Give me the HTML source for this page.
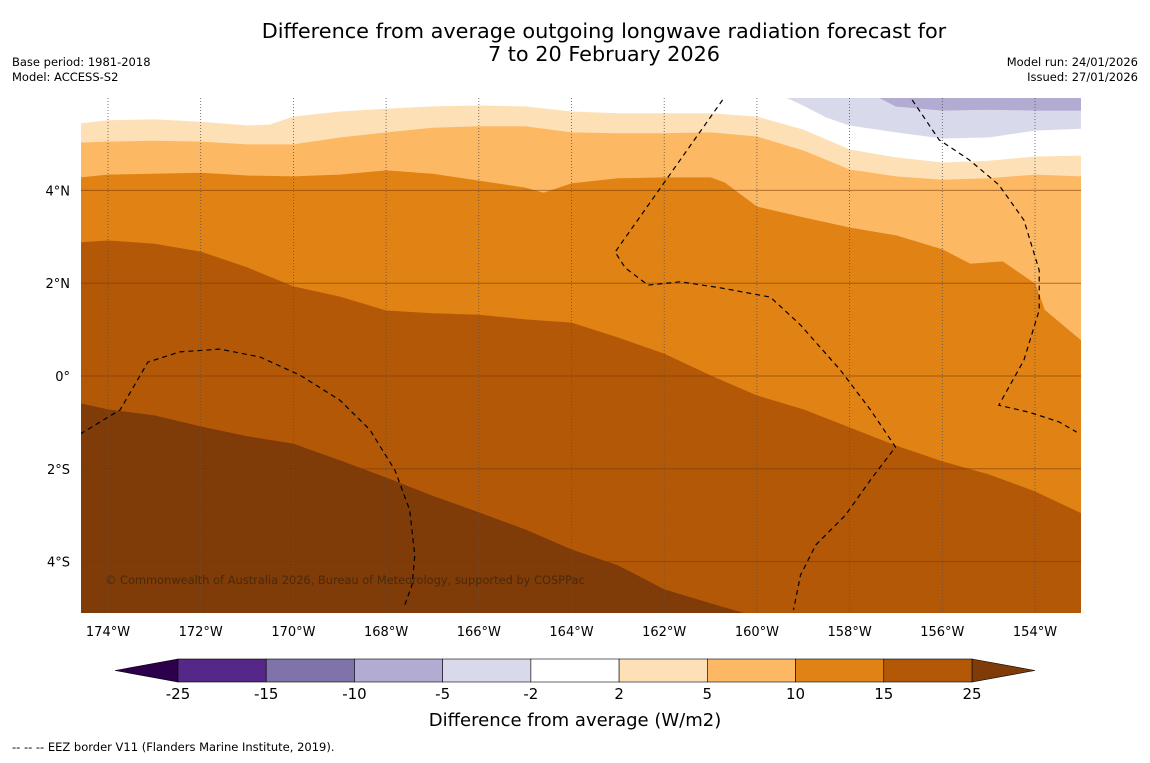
<!DOCTYPE html>
<html><head><meta charset="utf-8"><style>
body{margin:0;background:#fff;font-family:"Liberation Sans","DejaVu Sans",sans-serif;}
svg text{font-family:"DejaVu Sans","Liberation Sans",sans-serif;}
</style></head><body>
<svg id="c" width="1150" height="758" viewBox="0 0 1150 758" xmlns="http://www.w3.org/2000/svg">
<rect width="1150" height="758" fill="#fff"/>
<text x="604" y="38" font-size="20.8" text-anchor="middle">Difference from average outgoing longwave radiation forecast for</text>
<text x="604" y="61" font-size="20.8" text-anchor="middle">7 to 20 February 2026</text>
<text x="12" y="66" font-size="11.5">Base period: 1981-2018</text>
<text x="12" y="81" font-size="11.5">Model: ACCESS-S2</text>
<text x="1138" y="66" font-size="11.5" text-anchor="end">Model run: 24/01/2026</text>
<text x="1138" y="81" font-size="11.5" text-anchor="end">Issued: 27/01/2026</text>
<g id="map"></g>
<g id="cbar"></g>
<text x="575" y="726" font-size="18" text-anchor="middle">Difference from average (W/m2)</text>
<text x="12" y="751" font-size="11.5">--  --  -- EEZ border V11 (Flanders Marine Institute, 2019).</text>
</svg>
<script>
// contour level boundaries [lon, lat]
const lev2=[[-174.6,5.43],[-174,5.5],[-173,5.52],[-172,5.47],[-171,5.39],[-170.5,5.41],[-170,5.58],[-169,5.69],[-168,5.75],[-167,5.8],[-166,5.82],[-165,5.8],[-164,5.69],[-163,5.65],[-162,5.65],[-161,5.65],[-160,5.58],[-159,5.3],[-158,4.87],[-157,4.7],[-156,4.59],[-155,4.63],[-154,4.72],[-153,4.74]];
const lev5=[[-174.6,5.02],[-174,5.04],[-173,5.06],[-172,5.04],[-171,4.98],[-170,4.98],[-169,5.13],[-168,5.24],[-167,5.34],[-166,5.37],[-165,5.37],[-164,5.24],[-163,5.22],[-162,5.22],[-161,5.24],[-160,5.15],[-159,4.85],[-158,4.44],[-157,4.29],[-156,4.22],[-155,4.25],[-154,4.33],[-153,4.29]];
const lev10=[[-174.6,4.27],[-174,4.33],[-173,4.35],[-172,4.37],[-171,4.31],[-170,4.29],[-169,4.33],[-168,4.42],[-167,4.35],[-166,4.2],[-165,4.05],[-164.6,3.94],[-164,4.14],[-163,4.25],[-162,4.27],[-161,4.27],[-160.7,4.16],[-160,3.64],[-159,3.41],[-158,3.19],[-157,3.02],[-156,2.72],[-155.4,2.41],[-154.7,2.46],[-154,1.98],[-153.8,1.42],[-153,0.75]];
const lev15=[[-174.6,2.87],[-174,2.91],[-173,2.84],[-172,2.67],[-171,2.33],[-170,1.92],[-169,1.7],[-168,1.4],[-167,1.34],[-166,1.31],[-165,1.21],[-164,1.14],[-163,0.82],[-162,0.47],[-161,0],[-160,-0.43],[-159,-0.73],[-158,-1.12],[-157,-1.51],[-156,-1.85],[-155,-2.13],[-154,-2.5],[-153,-2.97]];
const lev25=[[-174.6,-0.6],[-174,-0.73],[-173,-0.86],[-172,-1.1],[-171,-1.31],[-170,-1.47],[-169,-1.83],[-168,-2.2],[-167,-2.59],[-166,-2.95],[-165,-3.32],[-164,-3.75],[-163,-4.09],[-162,-4.61],[-161,-4.91],[-160,-5.2]];
const levM2=[[-159.35,6],[-159,5.84],[-158.5,5.58],[-158,5.41],[-157,5.26],[-156,5.13],[-155,5.15],[-154,5.3],[-153,5.34]];
const levM5=[[-157.35,6],[-157,5.82],[-156,5.73],[-155,5.75],[-154,5.73],[-153,5.73]];
const eez1=[[-174.6,-1.25],[-173.74,-0.73],[-173.14,0.3],[-172.45,0.52],[-171.59,0.58],[-170.72,0.41],[-169.86,0.02],[-169,-0.52],[-168.35,-1.16],[-167.81,-2.03],[-167.49,-2.89],[-167.38,-3.86],[-167.44,-4.5],[-167.61,-4.97]];
const eez2=[[-160.74,5.95],[-163.06,2.67],[-162.84,2.33],[-162.35,1.96],[-161.65,2.03],[-160.79,1.9],[-159.71,1.7],[-159.06,1.1],[-158.2,0.13],[-157.55,-0.73],[-157.01,-1.53],[-157.55,-2.24],[-158.09,-3],[-158.73,-3.64],[-159.06,-4.29],[-159.21,-5.04]];
const eez3=[[-156.65,5.95],[-156.07,5.09],[-155.42,4.66],[-154.78,4.12],[-154.24,3.36],[-153.91,2.28],[-153.91,1.42],[-154.24,0.34],[-154.78,-0.63],[-154.13,-0.78],[-153.48,-0.99],[-153.1,-1.21]];
const lonTicks=[-174,-172,-170,-168,-166,-164,-162,-160,-158,-156,-154];
const latTicks=[4,2,0,-2,-4];
const cbLevels=[-25,-15,-10,-5,-2,2,5,10,15,25];
const cbColors=["#542788","#8073ac","#b2abd2","#d8daeb","#ffffff","#fee0b6","#fdb863","#e08214","#b35806"];

const X0=81,X1=1081,Y0=98,Y1=613;
const px=lon=>108+46.35*(lon+174);
const py=lat=>376-46.4*lat;
const NS="http://www.w3.org/2000/svg";
const map=document.getElementById('map');
function mk(t,a,p){const e=document.createElementNS(NS,t);for(const k in a)e.setAttribute(k,a[k]);(p||map).appendChild(e);return e;}
const pts=arr=>arr.map(d=>px(d[0]).toFixed(1)+','+py(d[1]).toFixed(1)).join(' ');
const cp=mk('clipPath',{id:'mc'});mk('rect',{x:X0,y:Y0,width:X1-X0,height:Y1-Y0},cp);
const g=mk('g',{'clip-path':'url(#mc)'});
function below(arr,fill,name){const p=mk('polygon',{points:pts(arr)+` ${X1+5},${Y1+5} ${X0-5},${Y1+5}`,fill:fill,stroke:fill},g);

}
function above(arr,fill,name){const p=mk('polygon',{points:pts(arr)+` ${X1+5},${Y0-5} ${px(arr[0][0])},${Y0-5}`,fill:fill,stroke:fill},g);

}
mk('rect',{x:X0,y:Y0,width:X1-X0,height:Y1-Y0,fill:'#fff'},g);
below(lev2,'#fee0b6','band-2-5');
below(lev5,'#fdb863','band-5-10');
below(lev10,'#e08214','band-10-15');
below(lev15,'#b35806','band-15-25');
below(lev25,'#7f3b08','band-above-25');
above(levM2,'#d8daeb','band-minus2-minus5');
above(levM5,'#b2abd2','band-minus5-minus10');
lonTicks.forEach(l=>{const e=mk('line',{x1:px(l),x2:px(l),y1:Y0,y2:Y1,stroke:'#555','stroke-width':0.8,'stroke-dasharray':'1,2'},g);


const t=mk('text',{x:px(l),y:636,'font-size':13,'text-anchor':'middle'});t.textContent=Math.abs(l)+'°W';

});
latTicks.forEach(l=>{const e=mk('line',{x1:X0,x2:X1,y1:py(l),y2:py(l),stroke:'#7a3a06','stroke-width':1,opacity:0.6},g);


const t=mk('text',{x:70,y:py(l)+5,'font-size':13,'text-anchor':'end'});t.textContent=l===0?'0°':Math.abs(l)+'°'+(l>0?'N':'S');

});
[eez1,eez2,eez3].forEach(a=>{const e=mk('polyline',{points:pts(a),fill:'none',stroke:'#000','stroke-width':1.2,'stroke-dasharray':'5,4'},g);

});
const ct=mk('text',{x:105,y:584,'font-size':11.4,fill:'#4a2a0a'},g);ct.textContent='© Commonwealth of Australia 2026, Bureau of Meteorology, supported by COSPPac';



const cb=document.getElementById('cbar');
const CB0=178,CB1=972,CY=659,CH=23,step=(CB1-CB0)/cbColors.length;
const lt=mk('polygon',{points:`${CB0},${CY} 115,${CY+CH/2} ${CB0},${CY+CH}`,fill:'#2d004b',stroke:'#000','stroke-width':0.6},cb);


const rt=mk('polygon',{points:`${CB1},${CY} 1035,${CY+CH/2} ${CB1},${CY+CH}`,fill:'#7f3b08',stroke:'#000','stroke-width':0.6},cb);


cbColors.forEach((c,i)=>{const r=mk('rect',{x:CB0+i*step,y:CY,width:step,height:CH,fill:c,stroke:'#000','stroke-width':0.6},cb);

});
cbLevels.forEach((v,i)=>{const t=mk('text',{x:CB0+i*step,y:699,'font-size':15,'text-anchor':'middle'},cb);t.textContent=v;

});
</script>
</body></html>
